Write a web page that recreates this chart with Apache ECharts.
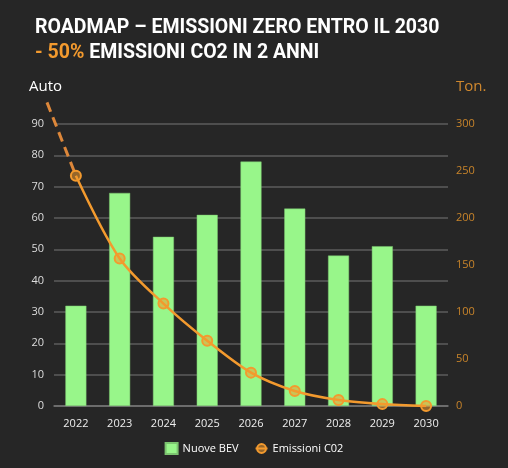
<!DOCTYPE html>
<html>
<head>
<meta charset="utf-8">
<script src="https://cdn.jsdelivr.net/npm/echarts@6/dist/echarts.min.js"></script>
<style>
html,body{margin:0;padding:0;background:#262626;}
#chart{width:508px;height:468px;}
</style>
</head>
<body>
<div id="chart"></div>
<script>
var years = ['2022','2023','2024','2025','2026','2027','2028','2029','2030'];
var nuoveBev = [32, 68, 54, 61, 78, 63, 48, 51, 32];
var emissioniCo2 = [245, 157, 109, 69.5, 35.5, 16, 6.4, 2, 0];
// dashed lead-in: [position relative to 2022 index, tons]
var leadIn = [[-0.66, 323], [0, 245]];
var autoTicks = [0, 90, 10];
var tonTicks = [0, 300, 50];

var orange = '#F39A2E';
var chart = echarts.init(document.getElementById('chart'));

// main plot box; a second, wider box (same scale) carries the lead-in
var box = {left: 54, right: 60, top: 124, bottom: 62};
var leadLeft = 36;
var unit = (chart.getWidth() - box.left - box.right) / years.length;
var leadMin = (years.length - 0.5) - (chart.getWidth() - leadLeft - box.right) / unit;

chart.setOption({
	animation: false,
	backgroundColor: '#262626',
	textStyle: {fontFamily: 'Open Sans'},
	title: [{
		left: 30,
		top: 11,
		text: 'ROADMAP – EMISSIONI ZERO ENTRO IL 2030\n{o|- 50%} EMISSIONI CO2 IN 2 ANNI',
		textStyle: {
			fontFamily: 'Roboto',
			fontWeight: 'bold',
			fontSize: 19.5,
			color: '#ffffff',
			lineHeight: 25,
			rich: {
				o: {color: orange, fontFamily: 'Roboto', fontWeight: 'bold', fontSize: 19.5}
			}
		}
	}, {
		left: 24,
		top: 74,
		text: 'Auto',
		textStyle: {fontFamily: 'Open Sans', fontWeight: 'normal', fontSize: 15, color: '#ffffff'}
	}, {
		left: 451,
		top: 74,
		text: 'Ton.',
		textStyle: {fontFamily: 'Open Sans', fontWeight: 'normal', fontSize: 15, color: '#d0882e'}
	}],
	legend: {
		bottom: 8,
		itemWidth: 12,
		itemHeight: 11,
		itemGap: 16,
		textStyle: {color: '#ffffff', fontSize: 11},
		data: [
			{name: 'Nuove BEV', icon: 'rect'},
			{name: 'Emissioni C02'}
		]
	},
	grid: [box, {left: leadLeft, right: box.right, top: box.top, bottom: box.bottom}],
	xAxis: [{
		type: 'category',
		data: years,
		axisLine: {lineStyle: {color: '#777', width: 1.5}},
		axisTick: {show: false},
		axisLabel: {color: '#eeeeee', fontSize: 11, margin: 12}
	}, {
		type: 'value',
		gridIndex: 1,
		min: leadMin,
		max: years.length - 0.5,
		show: false
	}],
	yAxis: [{
		type: 'value',
		min: autoTicks[0],
		max: autoTicks[1],
		interval: autoTicks[2],
		axisLine: {show: false},
		axisTick: {show: false},
		axisLabel: {color: '#dddddd', fontSize: 11, margin: 10},
		splitLine: {lineStyle: {color: '#5c5c5c', width: 1.5}}
	}, {
		type: 'value',
		min: tonTicks[0],
		max: tonTicks[1],
		interval: tonTicks[2],
		axisLine: {show: false},
		axisTick: {show: false},
		axisLabel: {color: '#c8842a', fontSize: 11, margin: 8},
		splitLine: {show: false}
	}, {
		type: 'value',
		gridIndex: 1,
		min: tonTicks[0],
		max: tonTicks[1],
		show: false
	}],
	series: [{
		name: 'Nuove BEV',
		type: 'bar',
		data: nuoveBev,
		barWidth: '48%',
		itemStyle: {color: '#98F68A', borderColor: '#7cc470', borderWidth: 0.5}
	}, {
		name: 'leadIn',
		type: 'line',
		xAxisIndex: 1,
		yAxisIndex: 2,
		data: leadIn,
		symbol: 'none',
		clip: false,
		silent: true,
		lineStyle: {color: '#dd873a', width: 3, type: [10, 6]},
		z: 4
	}, {
		name: 'Emissioni C02',
		type: 'line',
		yAxisIndex: 1,
		data: emissioniCo2,
		smooth: 0.3,
		symbol: 'circle',
		symbolSize: 10,
		color: orange,
		lineStyle: {color: orange, width: 2.5},
		itemStyle: {color: 'rgba(243,154,46,0.55)', borderColor: orange, borderWidth: 2},
		z: 5
	}]
});
</script>
</body>
</html>
